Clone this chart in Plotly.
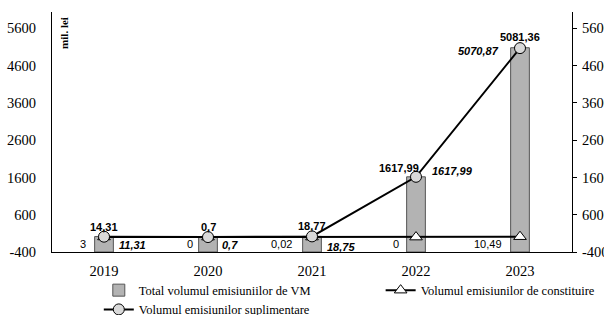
import plotly.graph_objects as go

years = ["2019", "2020", "2021", "2022", "2023"]
total = [14.31, 0.7, 18.77, 1617.99, 5081.36]
suplimentare = [11.31, 0.7, 18.75, 1617.99, 5070.87]
constituire = [3, 0, 0.02, 0, 10.49]
y_ticks = [-400, 600, 1600, 2600, 3600, 4600, 5600]
y_ticktext = ["-400", "600", "1600", "2600", "3600", "4600", "5600"]
Y_MIN, Y_MAX = -400, 6040


def fmt(v):
    return f"{v:g}".replace(".", ",")


serif = "Liberation Serif, Times New Roman, serif"
sans = "Liberation Sans, Arial, sans-serif"

fig = go.Figure()
fig.add_trace(go.Bar(
    x=years, y=[v - Y_MIN for v in total], base=Y_MIN,
    name="Total volumul emisiuniilor de VM",
    marker=dict(color="#b3b3b3", line=dict(color="#555555", width=1)),
    width=0.18, legend="legend",
))
fig.add_trace(go.Scatter(
    x=years, y=constituire, mode="lines+markers",
    name="Volumul emisiunilor de constituire",
    line=dict(color="black", width=2),
    marker=dict(symbol="triangle-up", size=11, color="white",
                line=dict(color="black", width=1)),
    legend="legend2",
))
fig.add_trace(go.Scatter(
    x=years, y=suplimentare, mode="lines+markers",
    name="Volumul emisiunilor suplimentare",
    line=dict(color="black", width=2),
    marker=dict(symbol="circle", size=11, color="#d9d9d9",
                line=dict(color="black", width=1)),
    legend="legend",
))
# invisible trace for right axis
fig.add_trace(go.Scatter(x=years, y=total, yaxis="y2", mode="markers",
                         marker=dict(opacity=0), showlegend=False, hoverinfo="skip"))

ann = []
# total labels (bold)
tot_shift = [(0, 10), (0, 10), (0, 10), (-17, 9), (0, 11)]
for i, (v, (dx, dy)) in enumerate(zip(total, tot_shift)):
    ann.append(dict(x=i, y=v, text=f"<b>{fmt(v)}</b>", showarrow=False,
                    xshift=dx, yshift=dy, font=dict(family=sans, size=11, color="black")))
# suplimentare labels (bold italic)
sup_pos = [("left", 13, -8), ("left", 12, -8), ("left", 13, -11), ("left", 14, 6), ("right", -19, -3)]
for i, (v, (xa, dx, dy)) in enumerate(zip(suplimentare, sup_pos)):
    ann.append(dict(x=i, y=v, text=f"<b><i>{fmt(v)}</i></b>", showarrow=False,
                    xanchor=xa, xshift=dx, yshift=dy,
                    font=dict(family=sans, size=11, color="black")))
# constituire labels (regular)
con_pos = [-16, -13, -18, -15, -16]
for i, (v, dx) in enumerate(zip(constituire, con_pos)):
    ann.append(dict(x=i, y=v, text=fmt(v), showarrow=False,
                    xanchor="right", xshift=dx, yshift=-7,
                    font=dict(family=sans, size=11, color="black")))
ann.append(dict(xref="paper", yref="paper", x=0.024, y=0.99, xanchor="center",
                yanchor="top", text="<b>mil. lei</b>",
                textangle=-90, showarrow=False,
                font=dict(family=serif, size=11, color="black")))

legend_font = dict(family=serif, size=12.5, color="black")
tick_font = dict(family=serif, size=14.5, color="black")
fig.update_layout(
    width=604, height=315,
    margin=dict(l=52, r=32, t=12, b=63, autoexpand=False),
    paper_bgcolor="white", plot_bgcolor="white",
    showlegend=True,
    legend=dict(orientation="v", x=0.09, xanchor="left", y=-0.098, yanchor="top",
                font=legend_font, traceorder="normal", tracegroupgap=0,
                bgcolor="rgba(0,0,0,0)"),
    legend2=dict(orientation="v", x=0.632, xanchor="left", y=-0.098, yanchor="top",
                 font=legend_font, bgcolor="rgba(0,0,0,0)"),
    xaxis=dict(type="category", range=[-0.5, len(years) - 0.5], autorange=False,
               showline=True, linecolor="black", linewidth=1, ticks="",
               tickfont=tick_font, showgrid=False, ticklabelstandoff=6),
    yaxis=dict(range=[Y_MIN, Y_MAX], tickvals=y_ticks, ticktext=y_ticktext,
               showline=True, linecolor="black",
               linewidth=1, ticks="", showgrid=False, zeroline=False,
               tickfont=tick_font, ticklabelstandoff=12),
    yaxis2=dict(range=[Y_MIN, Y_MAX], tickvals=y_ticks, ticktext=y_ticktext,
                overlaying="y", side="right",
                showline=True, linecolor="black", linewidth=1, ticks="outside", ticklen=4,
                tickcolor="black", showgrid=False, zeroline=False,
                tickfont=tick_font, ticklabelstandoff=2),
    annotations=ann,
)
fig.write_html("out.html", post_script="document.body.style.margin='0';",
               config={"displayModeBar": False})
